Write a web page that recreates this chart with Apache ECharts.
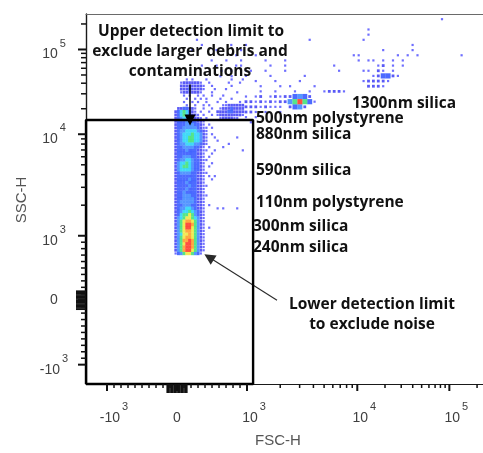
<!DOCTYPE html>
<html>
<head>
<meta charset="utf-8">
<script src="https://cdn.jsdelivr.net/npm/echarts@6/dist/echarts.min.js"></script>
<style>
  html, body { margin: 0; padding: 0; background: #ffffff; }
  #chart { width: 483px; height: 453px; }
</style>
</head>
<body>
<div id="chart"></div>
<script>
// ---- Display scale (biexponential-like): linear inside ±1000, log decades above ----
const LINEAR_LIMIT = 1000;
const DECADE_3_4 = 1.575;   // display width of the 10^3..10^4 decade
const DECADE_4_5 = 1.315;   // display width of the 10^4..10^5 decade and above

function toDisplay(v) {
  if (v <= LINEAR_LIMIT) return v / LINEAR_LIMIT;
  if (v <= 1e4) return 1 + Math.log10(v / 1e3) * DECADE_3_4;
  return 1 + DECADE_3_4 + Math.log10(v / 1e4) * DECADE_4_5;
}

// ---- Axis ranges and ticks (raw channel values) ----
const fscRange = [-1300, 232000];
const sscRange = [-1300, 262144];
const majorTicks = [-1000, 0, 1000, 10000, 100000];
const majorLabels = [['-10', '3'], ['0', ''], ['10', '3'], ['10', '4'], ['10', '5']];
const linearMinorTicks = [-900, -800, -700, -600, -500, -400, -300, -200, -100,
                          100, 200, 300, 400, 500, 600, 700, 800, 900];
const logMinorTicks = [2000, 3000, 4000, 5000, 6000, 7000, 8000, 9000,
                       20000, 30000, 40000, 50000, 60000, 70000, 80000, 90000, 200000];
const zeroClusterTicks = [-140, -120, -100, -80, -60, -40, -20, 0, 20, 40, 60, 80, 100, 120, 140];

// ---- Gate (raw channel values) ----
const gateFsc = [-1300, 1135];
const gateSsc = [-1300, 14700];

// ---- Event density maps (level 0 = empty ... 9 = highest), rows top to bottom ----
// Fine bins around the bead column (display units: x from -0.08 step 0.04, y from 3.50 step 0.05)
const coreDensity = [
  "00000000000000000100010000",
  "00000101000010000000010001",
  "00012222221001000000100010",
  "00022222222100100000010000",
  "00022232222100010001000000",
  "00012222221000100000000100",
  "00001010010100100010000000",
  "00000100101010000100010000",
  "00001001010010001001000010",
  "00000100100101000011222222",
  "00223322100100100122232222",
  "02356532101001002222332222",
  "02356532210100101222222221",
  "02345432221010000122221100",
  "02333433322100000000000000",
  "02333444332101000000000000",
  "02334444432110100000000000",
  "02344555543210000000000000",
  "02345556554210100000000000",
  "02345566554210010000000100",
  "02345566554210001000000000",
  "02344555443210000000100000",
  "02334444332101000010000000",
  "02333433322110010000000001",
  "02333333322100100000000000",
  "02334443322101000000000000",
  "02344554332110000000000000",
  "02455654332100100000000000",
  "02456654332101000000000000",
  "02455554332100000000000000",
  "02344443322110000000000000",
  "02333333322101010000000000",
  "02333343322100100000000000",
  "02333433322100000000000000",
  "02333343322110000000000000",
  "02333433322100000000000000",
  "02334333322100000000000000",
  "02334443322110000000000000",
  "02334444322100000000000000",
  "02344444322100000000000000",
  "02334443322101000000000000",
  "02344554322100001010000100",
  "02345565432100000000000000",
  "02356676432100000000000000",
  "02456776542100000000000000",
  "02467887642100000000000000",
  "02467998642100000000000000",
  "02467997642101000000000000",
  "02467887642100000000000000",
  "02457787642100000000000000",
  "02467887642100000000000000",
  "02468898642100000000000000",
  "02467998642100000000000000",
  "02468998642100000000000000",
  "02468997642100000000000000",
  "01346776431000000000000000"
];

// Coarse bins for the debris stream and scattered events (x from -0.10 step 0.07, y from 4.40 step 0.08)
const fieldDensity = [
  "000000000000000000000000000000000000000000000000000000010000000",
  "000000000000000000000000000000000000000000000000000000000000000",
  "000000000000000000000000000000000000000010000000000000000000000",
  "000000000000000000000000000000000000000010000000000000000000000",
  "000001000000000000000000000010000000000100000000000000000000000",
  "000000100000100100000000000000000000000000000000010000000000000",
  "000010000100001000000000000000000000000000010000010000000000000",
  "000000000000010001000000000000000000011000000010101000000001000",
  "000000001001001000010001000000000000001011010101000000000000000",
  "000000100100011000001001000000000100000000120101000000000000000",
  "000000000010100110010001000000000010000110210100000000000000000",
  "000000000000000100001000000100000000000001233210000000000000000",
  "000000000000000001000100001000000000000122221000000000000000000",
  "000000000000000000100010100001000000000022210000000000000000000",
  "000000000000000000100100010010012221000000000000000000000000000",
  "000000000000000101201212234320000000000000000000000000000000000",
  "000000000000000221212122469631000000000000000000000000000000000",
  "000000000000000222121110234200000000000000000000000000000000000",
  "000000000000000221010010000000000000000000000000000000000000000",
  "000000000000000101000000000000000000000000000000000000000000000",
  "000000000000000010000000000000000000000000000000000000000000000"
];

const coreBins = { x0: -0.08, dx: 0.04, y0: 3.50, dy: 0.05 };
const fieldBins = { x0: -0.10, dx: 0.07, y0: 4.40, dy: 0.08 };

// Pseudocolor ramp for density levels
const levelColors = ['', '#4a4aff', '#3030f4', '#1f46ff', '#2a7cff',
                     '#12d0f6', '#2adf6c', '#eee52a', '#ff9212', '#ff2212'];

function binCells(map, bins) {
  const out = [];
  map.forEach((row, j) => {
    for (let i = 0; i < row.length; i++) {
      const level = Number(row[i]);
      if (level > 0) {
        out.push([bins.x0 + bins.dx * (i + 0.5), bins.y0 - bins.dy * (j + 0.5), level]);
      }
    }
  });
  return out.sort((a, b) => a[2] - b[2]);
}

const X_MIN = toDisplay(fscRange[0]), X_MAX = toDisplay(fscRange[1]);
const Y_MIN = toDisplay(sscRange[0]), Y_MAX = toDisplay(sscRange[1]);
const majorDisp = majorTicks.map(toDisplay);

// Tick groups: [raw values, length on FSC axis, length on SSC axis, line width]
const tickGroups = [
  [majorTicks, 7, 8, 2],
  [linearMinorTicks.concat(logMinorTicks), 4, 5, 1.5],
  [zeroClusterTicks, 9, 10, 1.6]
];

const labelColor = '#3f3f3f';
const labelFont = 'Liberation Sans';

function labelIndex(value) {
  return majorDisp.findIndex(d => Math.abs(d - value) < 1e-6);
}

const labelRich = {
  bx: { fontSize: 14, color: labelColor, fontFamily: labelFont, padding: [12, 0, 0, 14] },
  by: { fontSize: 14, color: labelColor, fontFamily: labelFont, padding: [10, 0, 0, 0] },
  sup: { fontSize: 11, color: labelColor, fontFamily: labelFont, padding: [0, 0, 12, 2] },
  zx: { fontSize: 14, color: labelColor, fontFamily: labelFont, padding: [12, 0, 0, 0] },
  zy: { fontSize: 14, color: labelColor, fontFamily: labelFont }
};

function makeFormatter(axis) {
  return function (value) {
    const k = labelIndex(value);
    if (k < 0) return '';
    const [base, exp] = majorLabels[k];
    if (!exp) return '{z' + axis + '|' + base + '}';
    return '{b' + axis + '|' + base + '}{sup|' + exp + '}';
  };
}

const gateLine = [
  [toDisplay(gateFsc[0]), toDisplay(gateSsc[0])],
  [toDisplay(gateFsc[0]), toDisplay(gateSsc[1])],
  [toDisplay(gateFsc[1]), toDisplay(gateSsc[1])],
  [toDisplay(gateFsc[1]), toDisplay(gateSsc[0])],
  [toDisplay(gateFsc[0]), toDisplay(gateSsc[0])]
];

// Arrow annotations (raw channel values: tail -> head)
const upperArrow = [[186, 38500], [186, 14700]];
const lowerArrow = [[1871, 0], [457, 667]];

// Annotation texts: [text, x, y, align]
const annotationFont = 'bold 15.5px "Open Sans"';
const annotations = [
  ['Upper detection limit to', 191, 32, 'center'],
  ['exclude larger debris and', 190, 52, 'center'],
  ['contaminations', 190, 72, 'center'],
  ['1300nm silica', 352, 104, 'left'],
  ['500nm polystyrene', 256, 119, 'left'],
  ['880nm silica', 256, 135, 'left'],
  ['590nm silica', 256, 171, 'left'],
  ['110nm polystyrene', 256, 203, 'left'],
  ['300nm silica', 253, 227, 'left'],
  ['240nm silica', 253, 248, 'left'],
  ['Lower detection limit', 372, 305, 'center'],
  ['to exclude noise', 372, 325, 'center']
];

function textGraphics() {
  const out = annotations.map(([text, x, y, align]) => ({
    type: 'text', x: x, y: y, z: 10, silent: true,
    style: { text: text, font: annotationFont, fill: '#111111', textAlign: align, textVerticalAlign: 'middle' }
  }));
  out.push({
    type: 'text', x: 278, y: 441, z: 10, silent: true,
    style: { text: 'FSC-H', font: '15px "Liberation Sans"', fill: '#555555',
             textAlign: 'center', textVerticalAlign: 'middle' }
  });
  out.push({
    type: 'text', x: 22, y: 200, rotation: Math.PI / 2, z: 10, silent: true,
    style: { text: 'SSC-H', font: '15px "Liberation Sans"', fill: '#555555',
             textAlign: 'center', textVerticalAlign: 'middle' }
  });
  return out;
}

const chart = echarts.init(document.getElementById('chart'), null, { renderer: 'canvas' });

chart.setOption({
  animation: false,
  backgroundColor: '#ffffff',
  grid: { left: 86, top: 14, right: 0, bottom: 69, containLabel: false },
  xAxis: [
    {
      type: 'value', gridIndex: 0, min: X_MIN, max: X_MAX, position: 'bottom',
      axisLine: { show: true, onZero: false, lineStyle: { color: '#1a1a1a', width: 1.2 } },
      axisTick: { show: false },
      axisLabel: { show: true, customValues: majorDisp, margin: 15.5,
                   formatter: makeFormatter('x'), rich: labelRich },
      splitLine: { show: false }
    },
    {
      type: 'value', gridIndex: 0, min: X_MIN, max: X_MAX, position: 'top',
      axisLine: { show: true, onZero: false, lineStyle: { color: '#6a6a6a', width: 1.2 } },
      axisTick: { show: false }, axisLabel: { show: false }, splitLine: { show: false }
    }
  ],
  yAxis: [
    {
      type: 'value', gridIndex: 0, min: Y_MIN, max: Y_MAX, position: 'left',
      axisLine: { show: true, onZero: false, lineStyle: { color: '#1a1a1a', width: 1.4 } },
      axisTick: { show: false },
      axisLabel: { show: true, customValues: majorDisp, margin: 32, align: 'center',
                   formatter: makeFormatter('y'), rich: labelRich },
      splitLine: { show: false }
    }
  ],
  series: [
    {
      name: 'events (stream)',
      type: 'scatter',
      xAxisIndex: 0, yAxisIndex: 0,
      symbol: 'rect',
      data: binCells(fieldDensity, fieldBins),
      symbolSize: d => d[2] >= 3 ? [5.0, 5.2] : (d[2] === 2 ? 2.8 : 2.2),
      itemStyle: { color: p => levelColors[p.data[2]] },
      silent: true, z: 2
    },
    {
      name: 'events (beads)',
      type: 'scatter',
      xAxisIndex: 0, yAxisIndex: 0,
      symbol: 'rect',
      data: binCells(coreDensity, coreBins),
      symbolSize: d => d[2] >= 3 ? [3.0, 3.4] : (d[2] === 2 ? [2.6, 2.8] : 2.2),
      itemStyle: { color: p => levelColors[p.data[2]] },
      silent: true, z: 3
    },
    {
      name: 'gate',
      type: 'line',
      xAxisIndex: 0, yAxisIndex: 0,
      data: gateLine,
      symbol: 'none',
      clip: false,
      silent: true,
      z: 5,
      lineStyle: { color: '#000000', width: 2.4 },
      markLine: {
        silent: true,
        symbol: ['none', 'triangle'],
        symbolSize: 11,
        label: { show: false },
        data: [
          [
            { coord: upperArrow[0].map(toDisplay), lineStyle: { color: '#000000', width: 1.5, type: 'solid' },
              itemStyle: { color: '#000000' } },
            { coord: upperArrow[1].map(toDisplay) }
          ],
          [
            { coord: lowerArrow[0].map(toDisplay), lineStyle: { color: '#2a2a2a', width: 1.1, type: 'solid' },
              itemStyle: { color: '#000000' } },
            { coord: lowerArrow[1].map(toDisplay) }
          ]
        ]
      }
    }
  ],
  graphic: textGraphics()
});

// Tick marks, placed through the chart's own axis scales
const tickMarks = [];
tickGroups.forEach(([values, lenX, lenY, width]) => {
  values.forEach(v => {
    const d = toDisplay(v);
    const px = chart.convertToPixel({ gridIndex: 0 }, [d, Y_MIN]);
    tickMarks.push({
      type: 'line', z: 8, silent: true,
      shape: { x1: px[0], y1: px[1], x2: px[0], y2: px[1] + lenX },
      style: { stroke: '#111111', lineWidth: width }
    });
    const py = chart.convertToPixel({ gridIndex: 0 }, [X_MIN, d]);
    tickMarks.push({
      type: 'line', z: 8, silent: true,
      shape: { x1: py[0] - lenY, y1: py[1], x2: py[0], y2: py[1] },
      style: { stroke: '#111111', lineWidth: width }
    });
  });
});
chart.setOption({ graphic: textGraphics().concat(tickMarks) }, { replaceMerge: ['graphic'] });
</script>
</body>
</html>
